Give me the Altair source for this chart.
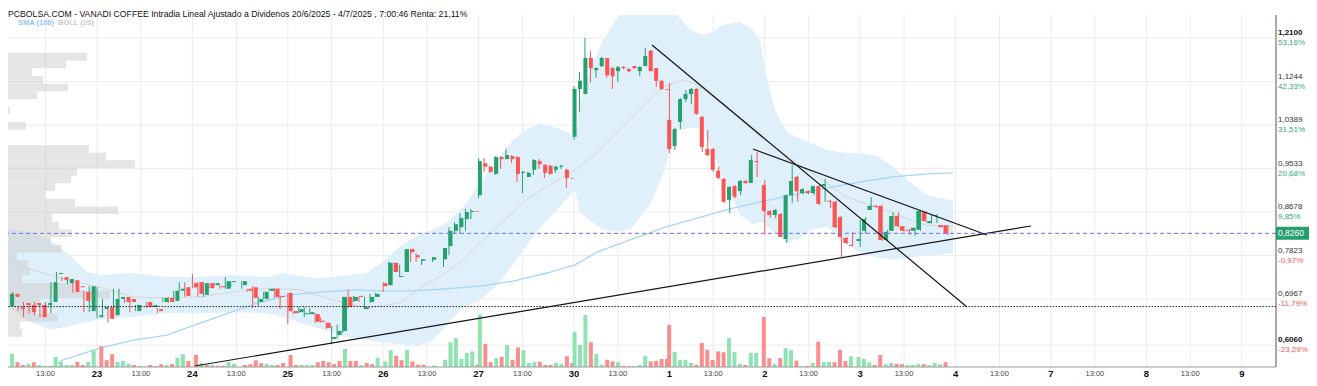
import altair as alt
import pandas as pd

W, H = 1268, 352
PX_DAY = 95.4
SLOTS = 17.4
UMIN = (8 - 1.6) / PX_DAY
UMAX = UMIN + W / PX_DAY
PMIN, PMAX = 0.5631, 1.2555
VOL_MAX = H * 250
PROF_MAX = W * 500
FONT = "Liberation Sans"

GREEN, RED = "#26a06c", "#fb5454"
VGREEN, VRED = "#8fe3b2", "#f98e8e"

TITLE = "PCBOLSA.COM - VANADI COFFEE Intradia Lineal Ajustado a Dividenos 20/6/2025 - 4/7/2025 , 7:00:46 Renta: 21,11%"

# ---------- 30-minute candles, day 0 = 20 Jun ... day 9 = 3 Jul ----------
S0 = list(range(1, 17))
O0 = [0.683,0.707,0.680,0.689,0.685,0.689,0.685,0.685,0.691,0.746,0.740,0.728,0.734,0.722,0.711,0.673]
H0 = [0.711,0.711,0.683,0.691,0.687,0.691,0.685,0.691,0.730,0.750,0.740,0.736,0.736,0.722,0.713,0.722]
L0 = [0.673,0.695,0.673,0.661,0.669,0.665,0.661,0.683,0.669,0.730,0.732,0.726,0.709,0.711,0.671,0.671]
C0 = [0.707,0.701,0.677,0.685,0.671,0.685,0.661,0.689,0.730,0.748,0.734,0.736,0.711,0.720,0.693,0.722]
V0 = [3300,1200,500,800,1200,500,300,300,2500,1300,500,500,1300,500,1300,4200]
VC0 = "GRRGRGGGGGGGRRGG"

S1 = [0,1,2,3,4,5,6,7,9,10,11,12,13,14,15,16]
O1 = [0.661,0.677,0.681,0.665,0.697,0.701,0.697,0.673,0.691,0.681,0.677,0.691,0.699,0.693,0.713,0.720]
H1 = [0.720,0.697,0.681,0.717,0.717,0.701,0.697,0.685,0.691,0.685,0.679,0.699,0.701,0.713,0.730,0.730]
L1 = [0.659,0.661,0.650,0.658,0.697,0.689,0.671,0.673,0.679,0.681,0.669,0.691,0.689,0.691,0.713,0.701]
C1 = [0.665,0.681,0.658,0.697,0.701,0.691,0.691,0.685,0.681,0.685,0.673,0.699,0.691,0.713,0.717,0.703]
V1 = [5200,1700,3200,1300,1500,800,500,300,500,300,700,500,700,2300,3200,1500]
VC1 = "RRRGGGRGRGRGRGGR"

S2 = [0,1,2,3,4,5,6,7,9,10,11,12,13,14,15,16]
O2 = [0.728,0.730,0.705,0.728,0.724,0.722,0.717,0.730,0.724,0.717,0.720,0.691,0.697,0.713,0.717,0.703]
H2 = [0.746,0.730,0.730,0.728,0.728,0.724,0.740,0.732,0.732,0.717,0.722,0.701,0.711,0.717,0.718,0.703]
L2 = [0.718,0.701,0.701,0.718,0.724,0.717,0.717,0.720,0.717,0.711,0.679,0.683,0.697,0.713,0.699,0.677]
C2 = [0.720,0.707,0.728,0.718,0.728,0.720,0.732,0.732,0.732,0.713,0.699,0.697,0.711,0.717,0.701,0.701]
V2 = [3000,1000,500,500,300,300,1300,800,500,700,1700,1000,800,500,500,1000]
VC2 = "RGRGRRGGRRRRGGRR"

S3 = list(range(0, 17))
O3 = [0.709,0.673,0.671,0.667,0.667,0.667,0.654,0.650,0.618,0.626,0.634,0.701,0.693,0.703,0.677,0.691,0.701]
H3 = [0.709,0.673,0.681,0.681,0.679,0.669,0.661,0.650,0.644,0.646,0.701,0.715,0.703,0.703,0.701,0.707,0.709]
L3 = [0.648,0.667,0.669,0.661,0.667,0.650,0.650,0.638,0.608,0.618,0.630,0.679,0.691,0.691,0.677,0.689,0.701]
C3 = [0.673,0.669,0.677,0.669,0.671,0.652,0.652,0.640,0.622,0.634,0.701,0.681,0.701,0.701,0.681,0.701,0.707]
V3 = [3000,500,500,500,500,1200,1500,1200,700,1500,4500,1500,1500,500,1000,700,2300]
VC3 = "RRGGGRRRRRGRRGRRG"

S4 = [0,1,2,3,4,5,6,7,9,11,12,13,14,15,16,17]
O4 = [0.728,0.724,0.768,0.740,0.750,0.795,0.783,0.772,0.774,0.775,0.801,0.831,0.838,0.854,0.868,0.870]
H4 = [0.730,0.770,0.768,0.764,0.795,0.795,0.787,0.775,0.779,0.797,0.838,0.848,0.866,0.874,0.874,0.870]
L4 = [0.711,0.724,0.750,0.740,0.750,0.770,0.770,0.764,0.770,0.760,0.783,0.825,0.825,0.831,0.854,0.868]
C4 = [0.722,0.768,0.750,0.742,0.795,0.789,0.779,0.775,0.779,0.797,0.831,0.844,0.856,0.868,0.870,0.869]
V4 = [1400,4200,2800,1700,4300,1400,600,600,400,1800,6200,7200,2000,3500,3900,600]
VC4 = "GGRRGRRRGGGGGGGR"

S5 = list(range(0, 18))
O5 = [0.901,0.964,0.957,0.943,0.976,0.972,0.978,0.976,0.945,0.937,0.951,0.968,0.961,0.959,0.951,0.957,0.951,0.935]
H5 = [0.974,0.974,0.959,0.978,0.978,0.992,0.980,0.978,0.949,0.947,0.972,0.972,0.961,0.961,0.959,0.961,0.953,0.935]
L5 = [0.895,0.947,0.945,0.941,0.953,0.972,0.964,0.927,0.905,0.937,0.941,0.953,0.935,0.941,0.945,0.953,0.915,0.933]
C5 = [0.968,0.957,0.947,0.976,0.972,0.980,0.972,0.943,0.947,0.945,0.970,0.962,0.945,0.943,0.957,0.959,0.935,0.934]
V5 = [13100,5800,1200,2200,2500,5500,1800,4900,4200,1000,1200,1300,500,500,1000,800,2700,1000]
VC5 = "GRRGRGRRGGGRRRGGRR"

S6 = list(range(0, 18))
O6 = [1.016,1.110,1.100,1.171,1.147,1.155,1.171,1.151,1.145,1.153,1.149,1.155,1.145,1.155,1.185,1.151,1.126,1.110]
H6 = [1.116,1.143,1.210,1.185,1.153,1.173,1.171,1.153,1.155,1.155,1.151,1.155,1.155,1.191,1.187,1.151,1.128,1.110]
L6 = [1.010,1.065,1.100,1.122,1.132,1.153,1.132,1.110,1.124,1.149,1.143,1.149,1.135,1.155,1.145,1.114,1.108,1.108]
C6 = [1.110,1.126,1.171,1.151,1.151,1.171,1.137,1.135,1.153,1.151,1.145,1.151,1.153,1.175,1.145,1.126,1.110,1.109]
V6 = [8800,5500,13000,6200,3300,600,1800,1400,1200,300,200,200,500,2800,1400,1500,2000,2000]
VC6 = "GGGRGGRRGRRGGGRRRR"

S7 = list(range(0, 17))
O7 = [1.049,0.998,1.045,1.090,1.100,1.110,1.055,0.992,0.992,0.949,0.933,0.892,0.919,0.909,0.929,0.925,0.968]
H7 = [1.122,1.033,1.092,1.108,1.112,1.112,1.057,1.029,0.994,0.957,0.935,0.919,0.921,0.931,0.931,0.980,0.986]
L7 = [0.984,0.990,1.031,1.084,1.080,1.059,0.986,0.978,0.947,0.933,0.886,0.866,0.895,0.901,0.923,0.925,0.937]
C7 = [0.992,1.031,1.090,1.100,1.110,1.061,0.996,0.980,0.951,0.935,0.888,0.917,0.898,0.929,0.925,0.970,0.966]
V7 = [10500,3800,1800,1800,1000,500,6000,4300,1800,3900,3700,7200,3700,800,500,3500,3500]
VC7 = "RGGGGRRRRRRGGGRGG"

S8 = list(range(0, 17))
O8 = [0.921,0.870,0.862,0.864,0.815,0.901,0.937,0.905,0.909,0.905,0.919,0.919,0.890,0.888,0.858,0.817,0.803]
H8 = [0.931,0.872,0.874,0.866,0.903,0.960,0.939,0.915,0.911,0.919,0.921,0.933,0.892,0.890,0.860,0.819,0.829]
L8 = [0.823,0.856,0.856,0.819,0.807,0.886,0.888,0.903,0.903,0.901,0.882,0.888,0.876,0.836,0.780,0.805,0.801]
C8 = [0.870,0.862,0.872,0.819,0.901,0.929,0.909,0.913,0.905,0.919,0.884,0.923,0.888,0.838,0.819,0.807,0.801]
V8 = [12500,2200,800,2200,4700,4200,1600,200,300,1000,6300,1300,1300,1200,4300,1500,2700]
VC8 = "RRGRGGRGRGRGGRRRG"

S9 = list(range(0, 17))
O9 = [0.811,0.831,0.872,0.880,0.880,0.813,0.831,0.860,0.840,0.833,0.831,0.833,0.868,0.846,0.860,0.842,0.842]
H9 = [0.852,0.858,0.897,0.882,0.882,0.833,0.868,0.868,0.840,0.835,0.837,0.872,0.870,0.862,0.864,0.842,0.842]
L9 = [0.799,0.825,0.872,0.876,0.811,0.811,0.831,0.838,0.829,0.823,0.821,0.831,0.848,0.846,0.846,0.838,0.823]
C9 = [0.815,0.854,0.880,0.878,0.813,0.829,0.860,0.840,0.831,0.831,0.837,0.870,0.850,0.850,0.862,0.838,0.826]
V9 = [2500,2000,1200,500,3000,700,1000,800,700,500,500,800,700,500,1000,700,1200]
VC9 = "GGGRRGGRRGGGRGGGR"

# ---------- Bollinger (20) band, SMA(20) middle, SMA(100) ----------
BAND_U = [0.046,0.161,0.329,0.507,0.686,0.895,1.031,1.377,1.734,2.080,2.426,2.782,2.950,3.128,3.306,
          3.474,3.652,3.830,3.998,4.176,4.354,4.522,4.669,4.836,5.015,5.193,5.361,5.507,5.644,5.822,
          5.958,6.011,6.063,6.168,6.304,6.451,6.587,6.797,6.933,7.006,7.080,7.216,7.352,7.425,7.562,
          7.740,7.876,7.950,8.002,8.107,8.233,8.369,8.474,8.652,8.862,8.998,9.176,9.344,9.522,9.700,9.973]
BAND_UP = [0.836,0.833,0.827,0.813,0.787,0.750,0.744,0.748,0.740,0.740,0.744,0.740,0.748,0.742,0.738,
           0.740,0.744,0.748,0.770,0.801,0.821,0.833,0.848,0.878,0.925,0.970,1.010,1.031,1.043,1.033,
           1.023,1.010,1.082,1.147,1.206,1.250,1.269,1.275,1.275,1.269,1.256,1.226,1.216,1.220,1.236,
           1.242,1.226,1.206,1.147,1.069,1.025,1.012,1.004,0.990,0.984,0.984,0.978,0.957,0.927,0.901,0.890]
BAND_LO = [0.685,0.669,0.650,0.636,0.642,0.652,0.656,0.662,0.669,0.669,0.671,0.669,0.662,0.650,0.640,
           0.630,0.620,0.616,0.612,0.608,0.604,0.616,0.646,0.679,0.695,0.724,0.764,0.803,0.837,0.872,
           0.901,0.911,0.866,0.852,0.833,0.829,0.833,0.882,0.941,0.990,1.029,1.033,1.033,1.000,0.935,
           0.862,0.844,0.848,0.844,0.827,0.807,0.817,0.833,0.839,0.803,0.789,0.778,0.774,0.778,0.783,0.787]
MID_U = [0.046,0.329,0.686,1.031,1.377,1.734,2.080,2.426,2.782,3.128,3.474,3.830,4.176,4.459,4.595,4.836,
         5.193,5.539,5.885,6.011,6.241,6.587,6.933,7.143,7.289,7.635,7.950,8.296,8.652,8.820,8.998,9.176,
         9.344,9.522,9.700,9.973]
MID_P = [0.774,0.754,0.734,0.720,0.701,0.699,0.701,0.711,0.718,0.715,0.695,0.679,0.689,0.728,0.740,0.774,
         0.839,0.898,0.937,0.951,0.984,1.049,1.114,1.128,1.118,1.069,1.016,0.970,0.925,0.901,0.888,0.878,
         0.866,0.852,0.842,0.839]
SMA_U = [0.507,0.644,1.031,1.377,1.734,2.027,2.321,2.677,3.023,3.369,3.725,3.966,4.312,4.669,5.015,5.361,
         5.717,6.011,6.241,6.587,6.797,6.933,7.289,7.635,7.950,8.296,8.652,8.998,9.344,9.700,9.973]
SMA_P = [0.561,0.577,0.600,0.616,0.626,0.646,0.665,0.689,0.705,0.711,0.715,0.713,0.713,0.717,0.722,0.732,
         0.748,0.764,0.789,0.813,0.827,0.837,0.856,0.874,0.888,0.901,0.915,0.927,0.937,0.943,0.945]

# ---------- volume profile (price bins of 0.0151) ----------
PROF_BIN = 0.0151
PROF_TOP = [1.1808,1.1657,1.1506,1.1355,1.1204,1.1053,1.0752,1.0450,0.9997,0.9847,0.9696,0.9545,0.9394,
            0.9243,0.9092,0.8941,0.8790,0.8640,0.8489,0.8338,0.8187,0.8036,0.7885,0.7734,0.7584,0.7433,
            0.7282,0.7131,0.6980,0.6829,0.6678,0.6527,0.6377]
PROF_VOL = [39500,29000,12000,17500,30000,14500,1000,9000,40500,49000,63500,34500,31500,23500,18500,33500,
            55000,22000,25500,32000,21500,27000,4500,10000,11000,7000,32500,51000,16000,14000,25000,6000,7000]

# ---------- trend lines ----------
TL_U0 = [2.027, 6.818, 7.876]
TL_P0 = [0.5651, 1.1965, 0.9919]
TL_U1 = [10.790, 10.120, 10.329]
TL_P1 = [0.8405, 0.6811, 0.8228]

CUR_PRICE = 0.8260
BASE_PRICE = 0.6820

TICK_P = [1.2100, 1.1244, 1.0389, 0.9533, 0.8678, 0.7823, 0.6967, 0.6060]
TICK_LAB = ["1,2100", "1,1244", "1,0389", "0,9533", "0,8678", "0,7823", "0,6967", "0,6060"]
TICK_PCT = ["53,16%", "42,33%", "31,51%", "20,68%", "9,85%", "-0,97%", "-11,79%", "-23,29%"]
DAY_LABELS = ["23", "24", "25", "26", "27", "30", "1", "2", "3", "4", "7", "8", "9"]

# ---------- build tables ----------
days = [(0,S0,O0,H0,L0,C0,V0,VC0),(1,S1,O1,H1,L1,C1,V1,VC1),(2,S2,O2,H2,L2,C2,V2,VC2),
        (3,S3,O3,H3,L3,C3,V3,VC3),(4,S4,O4,H4,L4,C4,V4,VC4),(5,S5,O5,H5,L5,C5,V5,VC5),
        (6,S6,O6,H6,L6,C6,V6,VC6),(7,S7,O7,H7,L7,C7,V7,VC7),(8,S8,O8,H8,L8,C8,V8,VC8),
        (9,S9,O9,H9,L9,C9,V9,VC9)]
rows = []
for d, S, O, HI, LO, C, V, VC in days:
    for i, s in enumerate(S):
        rows.append(dict(u=d + s / SLOTS, o=O[i], h=HI[i], l=LO[i], c=C[i], v=V[i],
                         col=GREEN if C[i] >= O[i] else RED,
                         vcol=VGREEN if VC[i] == "G" else VRED))
cdf = pd.DataFrame(rows)

band = pd.DataFrame({"u": BAND_U, "up": BAND_UP, "lo": BAND_LO})
mid = pd.DataFrame({"u": MID_U, "p": MID_P})
sma = pd.DataFrame({"u": SMA_U, "p": SMA_P})
prof = pd.DataFrame({"z": 0, "pv": PROF_VOL, "hi": PROF_TOP,
                     "lo": [t - PROF_BIN for t in PROF_TOP]})
tl = pd.DataFrame({"u0": TL_U0, "p0": TL_P0, "u1": TL_U1, "p1": TL_P1})
ticks = pd.DataFrame({"p": TICK_P, "lab": TICK_LAB, "pct": TICK_PCT,
                      "pcol": ["#2fae72" if not t.startswith("-") else "#f25a5a" for t in TICK_PCT]})
ticks_n = ticks.iloc[1:-1]
ticks_b = ticks.iloc[[0, len(ticks) - 1]]
gv = pd.DataFrame({"u": [d for d in range(1, 14)] + [d + 8 / SLOTS for d in range(0, 13)]})
dlab = pd.DataFrame({"u": list(range(1, 14)), "t": DAY_LABELS})
hlab = pd.DataFrame({"u": [d + 8 / SLOTS for d in range(0, 13)], "t": "13:00"})
one = pd.DataFrame({"a": [0]})

xs = alt.Scale(domain=[UMIN, UMAX], nice=False, zero=False)
ys = alt.Scale(domain=[PMIN, PMAX], nice=False, zero=False)
vs = alt.Scale(domain=[0, VOL_MAX], nice=False)
ps = alt.Scale(domain=[0, PROF_MAX], nice=False)


def X(f="u"):
    return alt.X(f"{f}:Q", scale=xs, axis=None)


def Y(f):
    return alt.Y(f"{f}:Q", scale=ys, axis=None)


grid_h = alt.Chart(ticks).mark_rule(color="#ececec", strokeWidth=1).encode(y=Y("p"))
grid_v = alt.Chart(gv).mark_rule(color="#ececec", strokeWidth=1).encode(x=X())
band_l = alt.Chart(band).mark_area(color="#dff0fb", clip=True).encode(x=X(), y=Y("up"), y2="lo")
mid_l = alt.Chart(mid).mark_line(color="#d6d6d6", strokeWidth=1).encode(x=X(), y=Y("p"))
sma_l = alt.Chart(sma).mark_line(color="#a6d5f7", strokeWidth=1.3, clip=True).encode(x=X(), y=Y("p"))
prof_l = alt.Chart(prof).mark_rect(color="#cfcfcf", opacity=0.55).encode(
    x=alt.X("z:Q", scale=ps, axis=None), x2="pv", y=Y("lo"), y2="hi")
vol_l = alt.Chart(cdf).mark_bar(size=4).encode(
    x=X(), y=alt.Y("v:Q", scale=vs, axis=None), color=alt.Color("vcol:N", scale=None))
wick = alt.Chart(cdf).mark_rule(strokeWidth=1).encode(
    x=X(), y=Y("l"), y2="h", color=alt.Color("col:N", scale=None))
body = alt.Chart(cdf).mark_bar(size=4).encode(
    x=X(), y=Y("o"), y2="c", color=alt.Color("col:N", scale=None))
trend = alt.Chart(tl).mark_rule(color="#151515", strokeWidth=1.2).encode(
    x=X("u0"), x2="u1", y=Y("p0"), y2="p1")
cur_line = alt.Chart(pd.DataFrame({"p": [CUR_PRICE]})).mark_rule(
    color="#6f6ff5", strokeDash=[4, 3], strokeWidth=1).encode(y=Y("p"))
base_line = alt.Chart(pd.DataFrame({"p": [BASE_PRICE]})).mark_rule(
    color="#222222", strokeDash=[1.5, 1.5], strokeWidth=1).encode(y=Y("p"))
bottom_ax = alt.Chart(one).mark_rule(color="#9a9a9a").encode(
    x=alt.value(0), x2=alt.value(W), y=alt.value(H))
right_ax = alt.Chart(one).mark_rule(color="#555555").encode(
    x=alt.value(W), y=alt.value(0), y2=alt.value(H))

lab_n = alt.Chart(ticks_n).mark_text(align="left", baseline="middle", font=FONT, fontSize=8,
                                     dy=-5, color="#333333").encode(
    x=alt.value(W + 2), y=Y("p"), text="lab:N")
lab_b = alt.Chart(ticks_b).mark_text(align="left", baseline="middle", font=FONT, fontSize=8,
                                     fontWeight="bold", dy=-5, color="#111111").encode(
    x=alt.value(W + 2), y=Y("p"), text="lab:N")
pct_n = alt.Chart(ticks_n).mark_text(align="left", baseline="middle", font=FONT, fontSize=8,
                                     dy=5).encode(
    x=alt.value(W + 2), y=Y("p"), text="pct:N", color=alt.Color("pcol:N", scale=None))
pct_b = alt.Chart(ticks_b).mark_text(align="left", baseline="middle", font=FONT, fontSize=8,
                                     dy=5).encode(
    x=alt.value(W + 2), y=Y("p"), text="pct:N", color=alt.Color("pcol:N", scale=None))
cur_df = pd.DataFrame({"p": [CUR_PRICE], "t": ["0,8260"]})
cur_box = alt.Chart(cur_df).mark_tick(orient="horizontal", thickness=13, size=36,
                                      color="#25a06d", opacity=1).encode(
    x=alt.value(W + 18), y=Y("p"))
cur_txt = alt.Chart(cur_df).mark_text(align="left", baseline="middle", font=FONT, fontSize=8.5,
                                      color="white").encode(
    x=alt.value(W + 2), y=Y("p"), text="t:N")

day_txt = alt.Chart(dlab).mark_text(baseline="middle", font=FONT, fontSize=9.5, fontWeight="bold",
                                    color="#111111").encode(x=X(), y=alt.value(H + 7), text="t:N")
hr_txt = alt.Chart(hlab).mark_text(baseline="middle", font=FONT, fontSize=7.5,
                                   color="#444444").encode(x=X(), y=alt.value(H + 7), text="t:N")
title = alt.Chart(pd.DataFrame({"t": [TITLE]})).mark_text(
    align="left", baseline="alphabetic", font=FONT, fontSize=8.7,
    color="#111111").encode(x=alt.value(0), y=alt.value(1.5), text="t:N")
sma_txt = alt.Chart(pd.DataFrame({"t": ["SMA (100)"]})).mark_text(
    align="left", baseline="middle", font=FONT, fontSize=7.5, fontWeight="bold",
    color="#8cc8f2").encode(x=alt.value(10), y=alt.value(8), text="t:N")
boll_txt = alt.Chart(pd.DataFrame({"t": ["BOLL (20)"]})).mark_text(
    align="left", baseline="middle", font=FONT, fontSize=7.5, fontWeight="bold",
    color="#cccccc").encode(x=alt.value(50), y=alt.value(8), text="t:N")

chart = alt.layer(
    grid_h, grid_v, band_l, mid_l, sma_l, prof_l, vol_l, wick, body, trend,
    cur_line, base_line, bottom_ax, right_ax,
    lab_n, lab_b, pct_n, pct_b, cur_box, cur_txt, day_txt, hr_txt, title, sma_txt, boll_txt
).resolve_scale(x="independent", y="independent").properties(
    width=W, height=H,
    padding={"left": 0, "top": 7, "right": 33, "bottom": 11},
    autosize=alt.AutoSizeParams(type="none"),
    background="white",
).configure_view(stroke=None)

chart.save("out.html", embed_options={"renderer": "svg", "actions": False})
